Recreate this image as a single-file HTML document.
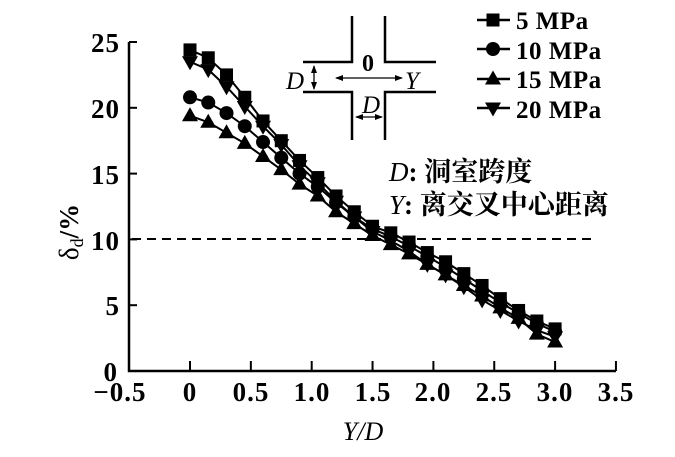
<!DOCTYPE html>
<html><head><meta charset="utf-8"><style>
body{margin:0;background:#fff}
svg text{font-family:"Liberation Serif","Noto Serif CJK SC",serif;fill:#000}
</style></head><body>
<svg id="s" width="675" height="452" viewBox="0 0 675 452" xmlns="http://www.w3.org/2000/svg">
<defs>
<marker id="ah" markerWidth="8" markerHeight="8" refX="7" refY="4" orient="auto-start-reverse" markerUnits="userSpaceOnUse"><path d="M0,1 L8,4 L0,7 Z" fill="#000"/></marker>
</defs>
<g stroke="#000" stroke-width="2.5" fill="none">
<path d="M129,42 V371 H616"/>
</g>
<g id="ticks" stroke="#000" stroke-width="2"></g>
<line x1="132" y1="239" x2="592" y2="239" stroke="#000" stroke-width="2" stroke-dasharray="9,6"/>
<g font-size="27" font-weight="bold" letter-spacing="1">
<text x="120" y="52" text-anchor="end">25</text>
<text x="120" y="118" text-anchor="end">20</text>
<text x="120" y="184" text-anchor="end">15</text>
<text x="120" y="250" text-anchor="end">10</text>
<text x="120" y="315" text-anchor="end">5</text>
<text x="118" y="381" text-anchor="end">0</text>
<g text-anchor="middle">
<text x="120" y="401">−0.5</text>
<text x="190" y="401">0</text>
<text x="251" y="401">0.5</text>
<text x="312" y="401">1.0</text>
<text x="373" y="401">1.5</text>
<text x="433" y="401">2.0</text>
<text x="494" y="401">2.5</text>
<text x="555" y="401">3.0</text>
<text x="616" y="401">3.5</text>
</g>
</g>
<text x="363" y="440" font-size="26" font-style="italic" text-anchor="middle">Y/D</text>
<text transform="translate(78,232) rotate(-90)" font-size="27" text-anchor="middle">δ<tspan font-size="18" dy="5">d</tspan><tspan dy="-5" font-weight="bold">/%</tspan></text>
<g id="series"></g>
<!-- inset -->
<g stroke="#000" stroke-width="2.5" fill="none">
<path d="M352,16 V62 H303"/><path d="M385,16 V62 H436"/>
<path d="M352,140 V92 H303"/><path d="M385,140 V92 H436"/>
</g>
<g stroke="#000" stroke-width="1.3">
<line x1="314" y1="66" x2="314" y2="89" marker-start="url(#ah)" marker-end="url(#ah)"/>
<line x1="336" y1="78" x2="402" y2="78" marker-start="url(#ah)" marker-end="url(#ah)"/>
<line x1="356" y1="117" x2="382" y2="117" marker-start="url(#ah)" marker-end="url(#ah)"/>
</g>
<text x="368" y="71" font-size="24" font-weight="bold" text-anchor="middle">0</text>
<text x="286" y="89" font-size="25" font-style="italic">D</text>
<text x="405" y="89" font-size="25" font-style="italic">Y</text>
<text x="362" y="113" font-size="25" font-style="italic">D</text>
<g id="legend"></g>
<g font-size="25" font-weight="bold" letter-spacing="0.5">
<text x="516" y="29">5 MPa</text>
<text x="516" y="59">10 MPa</text>
<text x="516" y="88">15 MPa</text>
<text x="516" y="118">20 MPa</text>
</g>
<g font-size="27">
<text x="389" y="181"><tspan font-style="italic">D</tspan><tspan font-weight="bold">:</tspan> <tspan font-weight="bold">洞室跨度</tspan></text>
<text x="389" y="214"><tspan font-style="italic">Y</tspan><tspan font-weight="bold">:</tspan> <tspan font-weight="bold">离交叉中心距离</tspan></text>
</g>
</svg>
<script>
var ns="http://www.w3.org/2000/svg";
function X(v){return 190+v*121.7}function Y(v){return 371-v*13.16}
function el(t,a,p){var e=document.createElementNS(ns,t);for(var k in a)e.setAttribute(k,a[k]);p.appendChild(e);return e}
var tk=document.getElementById('ticks');
[0,5,10,15,20,25].forEach(function(v){el('line',{x1:129,x2:137,y1:Y(v),y2:Y(v)},tk)});
[0,0.5,1,1.5,2,2.5,3,3.5].forEach(function(v){el('line',{x1:X(v),x2:X(v),y1:371,y2:361},tk)});
var data={
sq:[24.4,23.8,22.5,20.8,19,17.5,16,14.7,13.3,12.1,11,10.5,9.8,9,8.3,7.4,6.5,5.5,4.6,3.8,3.2],
ci:[20.8,20.4,19.6,18.6,17.4,16.2,15,14,12.8,11.7,10.8,10.2,9.5,8.7,7.9,7,6.1,5.2,4.4,3.6,3.0],
up:[19.4,18.9,18.1,17.3,16.3,15.3,14.2,13.3,12.1,11.2,10.3,9.6,8.9,8.1,7.3,6.5,5.7,4.8,4.0,2.8,2.2],
dn:[23.5,22.9,21.6,20.1,18.6,17.2,15.6,14.3,12.9,11.7,10.6,9.9,9.1,8.1,7.3,6.4,5.4,4.6,3.8,3.1,2.6]};
function mark(t,x,y,p){
 if(t=='sq')el('rect',{x:x-6.5,y:y-6.5,width:13,height:13,fill:'#000'},p);
 else if(t=='ci')el('circle',{cx:x,cy:y,r:7,fill:'#000'},p);
 else if(t=='up')el('path',{d:'M'+x+','+(y-8.5)+' L'+(x+8)+','+(y+5.5)+' L'+(x-8)+','+(y+5.5)+'Z',fill:'#000'},p);
 else el('path',{d:'M'+x+','+(y+8.5)+' L'+(x+8)+','+(y-5.5)+' L'+(x-8)+','+(y-5.5)+'Z',fill:'#000'},p);
}
var sg=document.getElementById('series');
['up','ci','dn','sq'].forEach(function(t){
 var d=data[t].map(function(v,i){return (i?'L':'M')+X(i*0.15)+','+Y(v)}).join(' ');
 el('path',{d:d,stroke:'#000','stroke-width':2,fill:'none'},sg);
 data[t].forEach(function(v,i){mark(t,X(i*0.15),Y(v),sg)});
});
var lg=document.getElementById('legend');
[['sq',20],['ci',49],['up',79],['dn',108]].forEach(function(a){
 el('line',{x1:477,x2:510,y1:a[1],y2:a[1],stroke:'#000','stroke-width':2.5},lg);
 mark(a[0],493,a[1],lg);
});
</script>
</body></html>
